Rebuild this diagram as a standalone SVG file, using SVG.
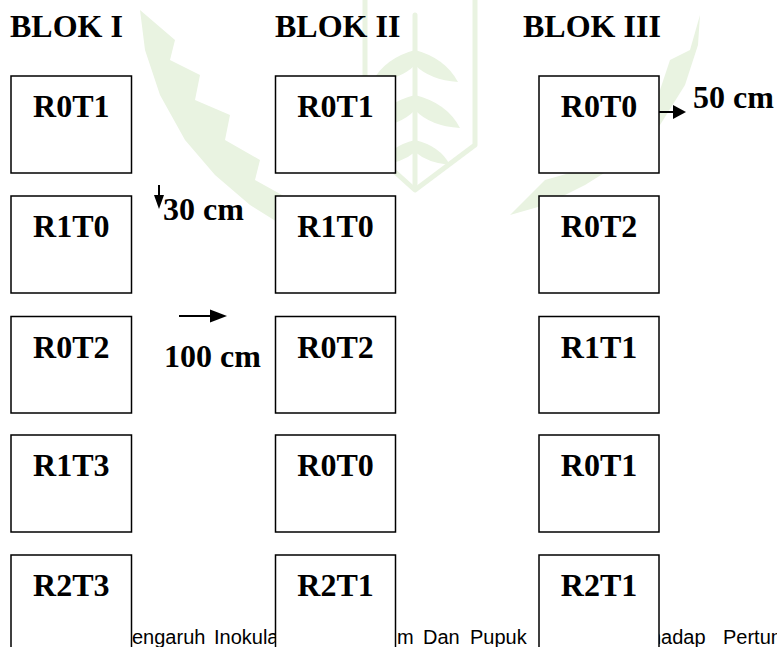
<svg xmlns="http://www.w3.org/2000/svg" width="777" height="647" viewBox="0 0 777 647">
<style>
.t{font-family:"Liberation Serif","Times New Roman",serif;font-weight:bold;font-size:32px;fill:#000}
.lb{text-anchor:middle}
.box{fill:#fff;stroke:#000;stroke-width:1.5}
.ft{font-family:"Liberation Sans",Arial,sans-serif;font-size:20px;fill:#000}
.wm{fill:#e9f3e1;stroke:none}
.wl{fill:none;stroke:#e9f3e1;stroke-width:5;stroke-linecap:round;stroke-linejoin:round}
.ln{stroke:#000;stroke-width:2;fill:none}
.hd{fill:#000}
</style>
<g id="watermark">
<path class="wm" d="M140,10 L175,40 L170,60 L200,75 L195,100 L230,115 L225,140 L260,160 L255,180 L300,205 L330,245 L290,230 L250,205 L215,175 L185,140 L160,95 L145,50 Z"/>
<path class="wm" d="M700,15 L690,50 L670,60 L660,90 L635,100 L625,130 L595,140 L580,170 L545,180 L510,215 L545,205 L585,185 L625,160 L660,125 L685,85 L698,45 Z"/>
<path class="wl" d="M365,0 L365,145 L415,190 L475,145 L475,0"/>
<path class="wl" d="M415,15 L415,185"/>
<path class="wm" d="M415,50 Q385,58 372,82 Q400,80 415,65 Z"/>
<path class="wm" d="M415,50 Q445,58 458,82 Q430,80 415,65 Z"/>
<path class="wm" d="M415,95 Q383,103 370,128 Q400,126 415,110 Z"/>
<path class="wm" d="M415,95 Q447,103 460,128 Q430,126 415,110 Z"/>
<path class="wm" d="M415,140 Q390,146 380,165 Q402,163 415,152 Z"/>
<path class="wm" d="M415,140 Q440,146 450,165 Q428,163 415,152 Z"/>
</g>
<g id="titles">
<text class="t" x="10" y="37">BLOK I</text>
<text class="t" x="275" y="37">BLOK II</text>
<text class="t" x="523" y="37">BLOK III</text>
</g>
<g id="footer">
<text class="ft" x="132" y="644">engaruh</text>
<text class="ft" x="214" y="644">Inokula</text>
<text class="ft" x="397" y="644">m</text>
<text class="ft" x="423" y="644">Dan</text>
<text class="ft" x="470" y="644">Pupuk</text>
<text class="ft" x="650" y="644">hadap</text>
<text class="ft" x="723" y="644">Pertum</text>
</g>
<g id="col1">
<g id="n1-1"><rect class="box" x="11" y="76" width="120.5" height="97"/><text class="t lb" x="71.25" y="117">R0T1</text></g>
<g id="n1-2"><rect class="box" x="11" y="196" width="120.5" height="97"/><text class="t lb" x="71.25" y="237">R1T0</text></g>
<g id="n1-3"><rect class="box" x="11" y="316.5" width="120.5" height="96.5"/><text class="t lb" x="71.25" y="357.5">R0T2</text></g>
<g id="n1-4"><rect class="box" x="11" y="435" width="120.5" height="97"/><text class="t lb" x="71.25" y="476">R1T3</text></g>
<g id="n1-5"><rect class="box" x="11" y="555" width="120.5" height="100"/><text class="t lb" x="71.25" y="596">R2T3</text></g>
</g>
<g id="col2">
<g id="n2-1"><rect class="box" x="275.5" y="76" width="120" height="97"/><text class="t lb" x="335.5" y="117">R0T1</text></g>
<g id="n2-2"><rect class="box" x="275.5" y="196" width="120" height="97"/><text class="t lb" x="335.5" y="237">R1T0</text></g>
<g id="n2-3"><rect class="box" x="275.5" y="316.5" width="120" height="96.5"/><text class="t lb" x="335.5" y="357.5">R0T2</text></g>
<g id="n2-4"><rect class="box" x="275.5" y="435" width="120" height="97"/><text class="t lb" x="335.5" y="476">R0T0</text></g>
<g id="n2-5"><rect class="box" x="275.5" y="555" width="120" height="100"/><text class="t lb" x="335.5" y="596">R2T1</text></g>
</g>
<g id="col3">
<g id="n3-1"><rect class="box" x="539" y="76" width="120" height="97"/><text class="t lb" x="599" y="117">R0T0</text></g>
<g id="n3-2"><rect class="box" x="539" y="196" width="120" height="97"/><text class="t lb" x="599" y="237">R0T2</text></g>
<g id="n3-3"><rect class="box" x="539" y="316.5" width="120" height="96.5"/><text class="t lb" x="599" y="357.5">R1T1</text></g>
<g id="n3-4"><rect class="box" x="539" y="435" width="120" height="97"/><text class="t lb" x="599" y="476">R0T1</text></g>
<g id="n3-5"><rect class="box" x="539" y="555" width="120" height="100"/><text class="t lb" x="599" y="596">R2T1</text></g>
</g>
<g id="connectors">
<path class="ln" d="M159,185 L159,198"/>
<polygon class="hd" points="154,195 164,195 159,209"/>
<path class="ln" d="M179,316 L212,316"/>
<polygon class="hd" points="210,309.5 227,316 210,322.5"/>
<path class="ln" d="M659,112 L675,112"/>
<polygon class="hd" points="673,105 686,112 673,119"/>
</g>
<g id="dims">
<text class="t" x="163" y="220">30 cm</text>
<text class="t" x="164" y="367">100 cm</text>
<text class="t" x="693" y="108">50 cm</text>
</g>
</svg>
